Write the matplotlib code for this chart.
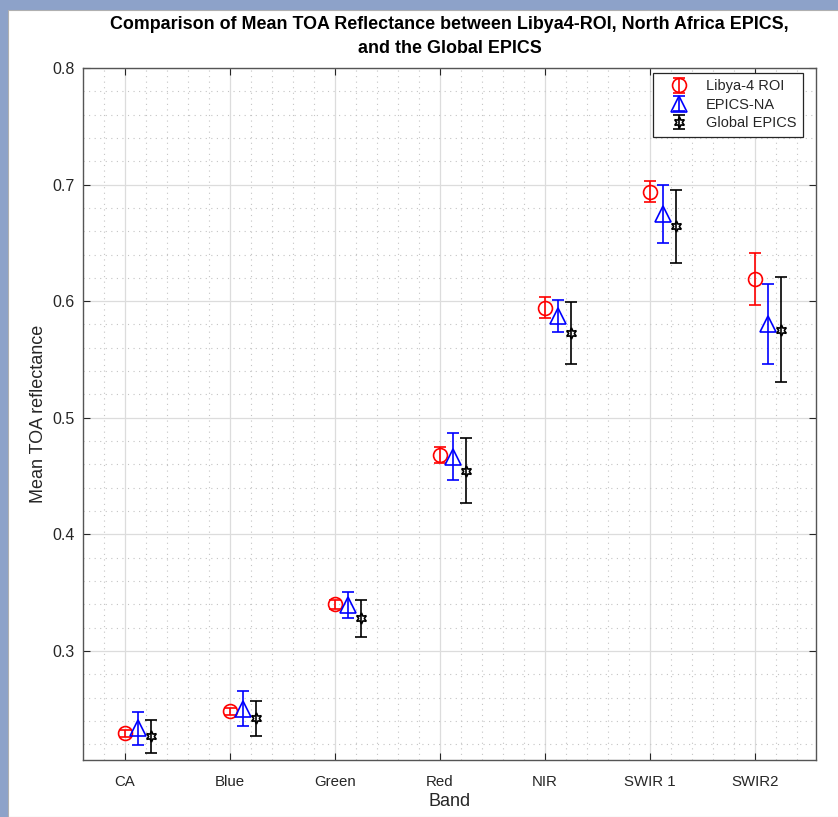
import numpy as np
import matplotlib
matplotlib.use('Agg')
import matplotlib.pyplot as plt
from matplotlib.ticker import MultipleLocator
from matplotlib.patches import Rectangle

plt.rcParams['font.family'] = ['Liberation Sans', 'DejaVu Sans']

# данные
bands = ['CA', 'Blue', 'Green', 'Red', 'NIR', 'SWIR 1', 'SWIR2']
libya_mean = [0.2295, 0.2483, 0.3400, 0.4678, 0.5943, 0.6938, 0.6189]
libya_err = [0.003, 0.003, 0.004, 0.007, 0.009, 0.009, 0.022]
na_mean = [0.2335, 0.2503, 0.3395, 0.4665, 0.5872, 0.6745, 0.5803]
na_err = [0.014, 0.015, 0.011, 0.020, 0.0135, 0.025, 0.0345]
glob_mean = [0.2266, 0.2420, 0.3280, 0.4545, 0.5727, 0.6641, 0.5755]
glob_err = [0.014, 0.0146, 0.016, 0.028, 0.0268, 0.031, 0.045]

x = np.arange(1, len(bands) + 1)
txt = '#262626'

fig = plt.figure(figsize=(8.38, 8.17), dpi=100, facecolor='#8da2c9')
# белое окно фигуры поверх "рабочего стола"
fig.add_artist(Rectangle((8 / 838, 0), 1, 1 - 10 / 817, transform=fig.transFigure,
                         facecolor='white', edgecolor='#b0b0b0', lw=0.8, zorder=-10))

ax = fig.add_axes([83 / 838, 1 - 760 / 817, (816 - 83) / 838, (760 - 68) / 817])

ax.errorbar(x, libya_mean, yerr=libya_err, fmt='o', color='red', mfc='none',
            ms=10, mew=1.2, elinewidth=1.2, capsize=4, capthick=1.2, label='Libya-4 ROI')
ax.errorbar(x + 0.12, na_mean, yerr=na_err, fmt='^', color='blue', mfc='none',
            ms=11, mew=1.2, elinewidth=1.2, capsize=4, capthick=1.2, label='EPICS-NA')
ax.errorbar(x + 0.25, glob_mean, yerr=glob_err, fmt='', ls='none', marker=(6, 1, 0),
            color='black', mfc='none', ms=8, mew=1.2, elinewidth=1.2, capsize=4,
            capthick=1.2, label='Global EPICS')

ax.set_xlim(0.6, 7.58)
ax.set_ylim(0.2064, 0.8)
ax.set_xticks(x)
ax.set_xticklabels(bands)
ax.set_yticks([0.3, 0.4, 0.5, 0.6, 0.7, 0.8])
ax.xaxis.set_minor_locator(MultipleLocator(0.2))
ax.yaxis.set_minor_locator(MultipleLocator(0.02))

ax.grid(True, which='major', color='#dcdcdc', lw=0.9)
ax.grid(True, which='minor', color='#c4c4c4', ls=(0, (1, 4)), lw=0.8)
ax.set_axisbelow(True)

ax.tick_params(which='major', direction='in', length=5, top=True, right=True,
               colors=txt, width=0.8)
ax.tick_params(axis='x', pad=11, labelsize=10.8)
ax.tick_params(axis='y', pad=6, labelsize=11.5)
ax.tick_params(which='minor', length=0)
for s in ax.spines.values():
    s.set_color('#555555')
    s.set_linewidth(1.0)

ax.set_xlabel('Band', fontsize=13, color=txt, labelpad=3)
ax.set_ylabel('Mean TOA reflectance', fontsize=13, color=txt, labelpad=4)
ax.set_title('Comparison of Mean TOA Reflectance between Libya4-ROI, North Africa EPICS,\n'
             'and the Global EPICS', fontsize=12.9, fontweight='bold', color='black',
             pad=11, linespacing=1.55)

leg = ax.legend(loc='upper right', bbox_to_anchor=(0.982, 0.993), borderaxespad=0,
                fontsize=10.5, fancybox=False, edgecolor='#262626', framealpha=1,
                borderpad=0.45, labelspacing=0.3, handlelength=2.8, handletextpad=0.4)
leg.get_frame().set_linewidth(0.9)
for t in leg.get_texts():
    t.set_color(txt)

plt.savefig('out.png', dpi=100, facecolor=fig.get_facecolor())
